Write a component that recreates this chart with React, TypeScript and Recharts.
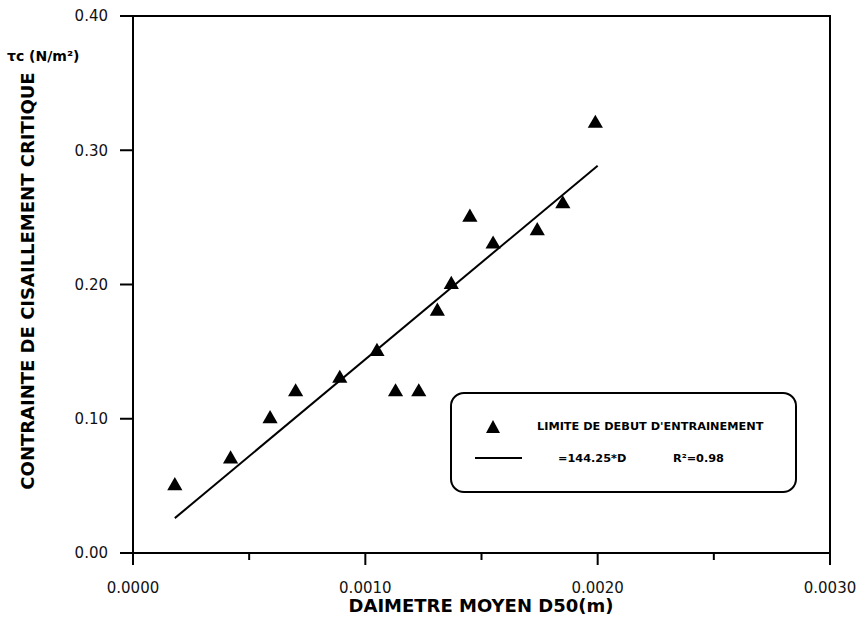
import React from 'react';
import {
  ComposedChart,
  Scatter,
  Line,
  XAxis,
  YAxis,
  ZAxis,
  Legend,
  ReferenceArea,
  Label,
} from 'recharts';

// Mean grain diameter D50 (m) of each test
const diameters = [
  0.00018, 0.00042, 0.00059, 0.0007, 0.00089, 0.00105, 0.00113, 0.00123,
  0.00131, 0.00137, 0.00145, 0.00155, 0.00174, 0.00185, 0.00199,
];
// Critical shear stress at the onset of motion (N/m²)
const criticalStress = [
  0.05, 0.07, 0.1, 0.12, 0.13, 0.15, 0.12, 0.12, 0.18, 0.2, 0.25, 0.23, 0.24,
  0.26, 0.32,
];

// Linear fit through the origin: tau = 144.25 * D, R² = 0.98
const fitSlope = 144.25;
const fitR2 = '0.98';
const fitExtent = [0.00018, 0.002];

const xTicks = [0, 0.0005, 0.001, 0.0015, 0.002, 0.0025, 0.003];
const yTicks = [0, 0.1, 0.2, 0.3, 0.4];

const seriesName = "LIMITE DE DEBUT D'ENTRAINEMENT";
const fitName = `=${fitSlope}*D`;
const xTitle = 'DAIMETRE MOYEN D50(m)';
const yTitle = 'CONTRAINTE DE CISAILLEMENT CRITIQUE';
const unitLabel = 'τc (N/m²)';

const points = diameters.map((d, i) => ({ d, tau: criticalStress[i] }));
const fitLine = fitExtent.map((d) => ({ d, tau: fitSlope * d }));

const TICK_FONT = '"DejaVu Sans", sans-serif';

const XTick = (props: any) => {
  const { x, y, payload } = props;
  const v = payload.value as number;
  const major = Math.abs(Math.round(v * 1000) - v * 1000) < 1e-9;
  return (
    <g>
      <line x1={x} x2={x} y1={y} y2={y + (major ? 12 : 7)} stroke="#000" strokeWidth={2} />
      {major && (
        <text
          x={x}
          y={y + 29}
          dy="0.71em"
          textAnchor="middle"
          fontFamily={TICK_FONT}
          fontSize={15}
          fill="#111"
        >
          {v.toFixed(4)}
        </text>
      )}
    </g>
  );
};

const LegendBox = (props: any) => {
  const payload = props.payload || [];
  const scatterEntry = payload.find((p: any) => p.type === 'triangle') || { value: seriesName };
  const lineEntry = payload.find((p: any) => p.type !== 'triangle') || { value: fitName };
  return (
    <div
      style={{
        width: '100%',
        height: '100%',
        boxSizing: 'border-box',
        border: '2px solid #000',
        borderRadius: 14,
        background: '#fff',
      }}
    >
      <svg width={343} height={97} style={{ display: 'block' }}>
        <polygon points="41,26 48,39 34,39" fill="#000" />
        <text
          x={85}
          y={36}
          fontFamily={TICK_FONT}
          fontWeight="bold"
          fontSize={11.3}
          fill="#000"
        >
          {scatterEntry.value}
        </text>
        <line x1={23} x2={70} y1={64} y2={64} stroke="#000" strokeWidth={2} />
        <text x={106} y={68} fontFamily={TICK_FONT} fontWeight="bold" fontSize={11.3} fill="#000">
          {lineEntry.value}
        </text>
        <text x={221} y={68} fontFamily={TICK_FONT} fontWeight="bold" fontSize={11.3} fill="#000">
          {`R²=${fitR2}`}
        </text>
      </svg>
    </div>
  );
};

export default function App() {
  return (
    <div
      style={{
        position: 'absolute',
        left: 0,
        top: 0,
        width: 859,
        height: 618,
        background: '#fff',
      }}
    >
      <ComposedChart
        width={859}
        height={618}
        margin={{ top: 16, right: 29, bottom: 0, left: 0 }}
      >
        <XAxis
          dataKey="d"
          type="number"
          domain={[0, 0.003]}
          ticks={xTicks}
          interval={0}
          height={65}
          axisLine={{ stroke: '#000', strokeWidth: 2 }}
          tickLine={false}
          tickSize={0}
          tickMargin={0}
          tick={<XTick />}
        >
          <Label
            content={() => (
              <text
                x={481}
                y={612}
                textAnchor="middle"
                fontFamily={TICK_FONT}
                fontWeight="bold"
                fontSize={18}
                fill="#000"
              >
                {xTitle}
              </text>
            )}
          />
        </XAxis>
        <YAxis
          dataKey="tau"
          type="number"
          domain={[0, 0.4]}
          ticks={yTicks}
          interval={0}
          width={133}
          axisLine={{ stroke: '#000', strokeWidth: 2 }}
          tickLine={{ stroke: '#000', strokeWidth: 2 }}
          tickSize={13}
          tickMargin={12}
          tickFormatter={(v: number) => v.toFixed(2)}
          tick={{ fontFamily: TICK_FONT, fontSize: 15, fill: '#111' }}
        >
          <Label
            content={() => (
              <g>
                <text
                  x={34}
                  y={281}
                  transform="rotate(-90, 34, 281)"
                  textAnchor="middle"
                  fontFamily={TICK_FONT}
                  fontWeight="bold"
                  fontSize={18}
                  fill="#000"
                >
                  {yTitle}
                </text>
                <text
                  x={7}
                  y={61}
                  fontFamily={TICK_FONT}
                  fontWeight="bold"
                  fontSize={14}
                  fill="#000"
                >
                  {unitLabel}
                </text>
              </g>
            )}
          />
        </YAxis>
        <ZAxis range={[100, 100]} />
        <ReferenceArea
          x1={0}
          x2={0.003}
          y1={0}
          y2={0.4}
          fill="none"
          stroke="#000"
          strokeWidth={2}
          ifOverflow="visible"
        />
        <Line
          data={fitLine}
          dataKey="tau"
          name={fitName}
          stroke="#000"
          strokeWidth={2}
          dot={false}
          legendType="plainline"
          isAnimationActive={false}
        />
        <Scatter
          data={points}
          dataKey="tau"
          name={seriesName}
          fill="#000"
          shape="triangle"
          legendType="triangle"
          isAnimationActive={false}
        />
        <Legend
          layout="horizontal"
          verticalAlign="middle"
          align="center"
          wrapperStyle={{ position: 'absolute', left: 450, top: 392, width: 347, height: 101 }}
          content={<LegendBox />}
        />
      </ComposedChart>
    </div>
  );
}
